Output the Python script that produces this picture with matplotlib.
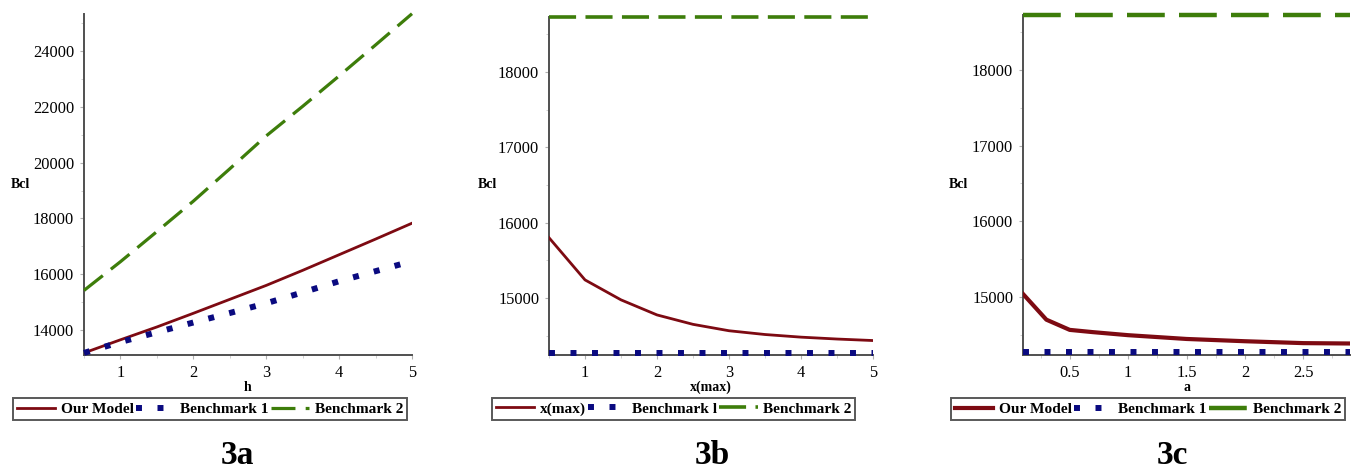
import matplotlib
matplotlib.use("Agg")
import matplotlib.pyplot as plt
from matplotlib.ticker import AutoMinorLocator

plt.rcParams["font.family"] = ["Liberation Serif", "DejaVu Serif"]

RED = "#7d0a12"
BLUE = "#0a0a80"
GREEN = "#3d7d0a"

# panel 3a: Bcl vs h
h_vals = [0.5, 1, 1.5, 2, 2.5, 3, 3.5, 4, 4.5, 5]
a_model = [13180, 13650, 14110, 14600, 15100, 15600, 16140, 16700, 17260, 17830]
a_bench1 = [13180, 13570, 13920, 14270, 14610, 14960, 15350, 15750, 16110, 16470]
a_bench2 = [15420, 16450, 17530, 18620, 19780, 20960, 22020, 23110, 24220, 25340]

# panel 3b: Bcl vs x(max)
xmax_vals = [0.5, 1, 1.5, 2, 2.5, 3, 3.5, 4, 4.5, 5]
b_model = [15800, 15240, 14975, 14775, 14650, 14565, 14515, 14480, 14455, 14435]
b_bench1 = [14270] * len(xmax_vals)
b_bench2 = [18730] * len(xmax_vals)

# panel 3c: Bcl vs a
a_vals = [0.1, 0.3, 0.5, 0.7, 1.0, 1.5, 2.0, 2.5, 2.9]
c_model = [15040, 14700, 14565, 14535, 14495, 14445, 14415, 14390, 14385]
c_bench1 = [14270] * len(a_vals)
c_bench2 = [18730] * len(a_vals)

W, H = 1354, 472
fig = plt.figure(figsize=(W / 100, H / 100), dpi=100)


def px_axes(left, right, top, bottom):
    return fig.add_axes([left / W, 1 - bottom / H, (right - left) / W, (bottom - top) / H])


def style_axes(ax):
    for side in ("top", "right"):
        ax.spines[side].set_visible(False)
    for side in ("left", "bottom"):
        ax.spines[side].set_color("#505050")
        ax.spines[side].set_linewidth(1.4)
    ax.xaxis.set_minor_locator(AutoMinorLocator(2))
    ax.yaxis.set_minor_locator(AutoMinorLocator(2))
    ax.tick_params(which="major", direction="out", length=3, color="#b0b0b0",
                   labelsize=11.8, pad=4)
    ax.tick_params(which="minor", direction="out", length=2, color="#c8c8c8")


panels = [
    dict(box=(84, 412, 14, 355), x=h_vals, series=(a_model, a_bench1, a_bench2),
         xlim=(0.5, 5), ylim=(13105, 25330), yticks=[14000, 16000, 18000, 20000, 22000, 24000],
         xticks=[1, 2, 3, 4, 5], xlabel="h", names=("Our Model", "Benchmark 1", "Benchmark 2"),
         lw=(2.0, 4.3, 2.3), dash=(7.5, 3.2), leg=(8, 412), tag="3a", tagx=237, ylx=20),
    dict(box=(549, 873, 17, 355), x=xmax_vals, series=(b_model, b_bench1, b_bench2),
         xlim=(0.5, 5), ylim=(14243, 18730), yticks=[15000, 16000, 17000, 18000],
         xticks=[1, 2, 3, 4, 5], xlabel="x(max)", names=("x(max)", "Benchmark l", "Benchmark 2"),
         lw=(2.0, 4.3, 2.6), dash=(7.5, 2.6), leg=(487, 860), tag="3b", tagx=712, ylx=487),
    dict(box=(1023, 1350, 15, 355), x=a_vals, series=(c_model, c_bench1, c_bench2),
         xlim=(0.1, 2.9), ylim=(14233, 18727), yticks=[15000, 16000, 17000, 18000],
         xticks=[0.5, 1, 1.5, 2, 2.5], xlabel="a", names=("Our Model", "Benchmark 1", "Benchmark 2"),
         lw=(3.0, 4.3, 3.2), dash=(8.5, 3.2), leg=(947, 1349), tag="3c", tagx=1172, ylx=958),
]

for p in panels:
    ax = px_axes(*p["box"])
    style_axes(ax)
    model, bench1, bench2 = p["series"]
    lw_m, lw_b1, lw_b2 = p["lw"]
    l1, = ax.plot(p["x"], model, color=RED, lw=lw_m, label=p["names"][0], zorder=3)
    l2, = ax.plot(p["x"], bench1, color=BLUE, lw=lw_b1, linestyle=(0, (1, 2.6)),
                  dash_capstyle="butt", label=p["names"][1], zorder=4, clip_on=False)
    l3, = ax.plot(p["x"], bench2, color=GREEN, lw=lw_b2, linestyle=(0, p["dash"]),
                  dash_capstyle="butt", label=p["names"][2], zorder=3, clip_on=False)
    ax.set_xlim(*p["xlim"])
    ax.set_ylim(*p["ylim"])
    ax.set_xticks(p["xticks"])
    ax.set_xticklabels([f"{t:g}" for t in p["xticks"]])
    ax.set_yticks(p["yticks"])
    ax.set_xlabel(p["xlabel"], fontsize=10, fontweight="bold", labelpad=0)

    fig.text(p["ylx"] / W, 1 - 184 / H, "Bcl", fontsize=10, fontweight="bold",
             ha="center", va="center")

    lx0, lx1 = p["leg"]
    leg = fig.legend(handles=[l1, l2, l3], loc="center",
                     bbox_to_anchor=((lx0 + lx1) / 2 / W, 1 - 409 / H),
                     ncol=3, frameon=True, fancybox=False,
                     prop={"weight": "bold", "size": 11.1},
                     handlelength=2.5, handletextpad=0.35, columnspacing=0.15,
                     borderpad=0.25, borderaxespad=0)
    leg.get_frame().set_edgecolor("#303030")
    leg.get_frame().set_linewidth(1.4)

    fig.text(p["tagx"] / W, 1 - 456 / H, p["tag"], fontsize=24, fontweight="bold",
             ha="center", va="center")

fig.savefig("out.png", dpi=100)
